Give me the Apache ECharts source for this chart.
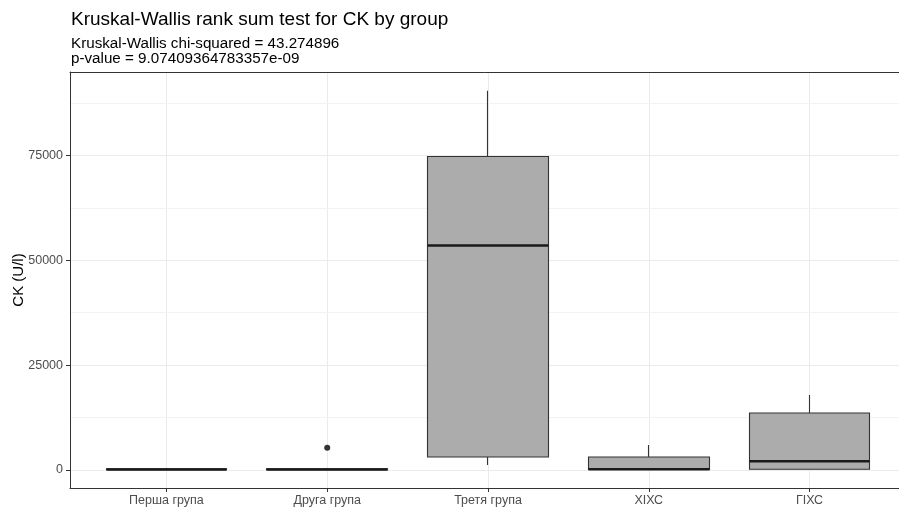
<!DOCTYPE html>
<html>
<head>
<meta charset="utf-8">
<script src="https://cdn.jsdelivr.net/npm/echarts@6/dist/echarts.min.js"></script>
<style>html,body{margin:0;padding:0;background:#fff;}#c{width:899px;height:508px;}</style>
</head>
<body>
<div id="c"></div>
<script>
const categories = ['Перша група', 'Друга група', 'Третя група', 'ХІХС', 'ГІХС'];
// [min (lower whisker), Q1, median, Q3, max (upper whisker)]
const lowerWhisker = [20, 20, 1200, 0, 100];
const q1Values     = [60, 60, 3100, 100, 170];
const medianValues = [120, 110, 53500, 150, 2070];
const q3Values     = [250, 250, 74760, 3100, 13570];
const upperWhisker = [450, 450, 90400, 5950, 17860];
const outliers = [[1, 5300]];
const yTicks = [0, 25000, 50000, 75000];
const yMinorTicks = [12500, 37500, 62500, 87500];

const boxData = categories.map((c, i) => [i, q1Values[i], q3Values[i], lowerWhisker[i], upperWhisker[i]]);
const medData = categories.map((c, i) => [i, medianValues[i], medianValues[i], medianValues[i], medianValues[i]]);

const chart = echarts.init(document.getElementById('c'));
const FONT = 'Liberation Sans, Arial, sans-serif';
chart.setOption({
  animation: false,
  textStyle: { fontFamily: FONT },
  title: {
    text: 'Kruskal-Wallis rank sum test for CK by group',
    subtext: 'Kruskal-Wallis chi-squared = 43.274896\np-value = 9.07409364783357e-09',
    left: 66, top: 5, itemGap: 8,
    textStyle: { fontSize: 19, fontWeight: 'normal', color: '#000', fontFamily: FONT },
    subtextStyle: { fontSize: 15.2, color: '#000', lineHeight: 14.5, fontFamily: FONT }
  },
  grid: { left: 70, top: 72, width: 836, bottom: 20, outerBoundsMode: 'none', containLabel: false },
  xAxis: [{
    type: 'value', min: -0.6, max: 4.6,
    axisLine: { show: true, onZero: false, lineStyle: { color: '#333', width: 1 } },
    axisTick: { show: true, customValues: [0, 1, 2, 3, 4], length: 4, lineStyle: { color: '#333' } },
    axisLabel: { customValues: [0, 1, 2, 3, 4], formatter: v => categories[Math.round(v)] || '', color: '#4d4d4d', fontSize: 12.5, margin: 6, fontFamily: FONT },
    splitLine: { show: true, lineStyle: { color: '#ebebeb', width: 1 } }
  }, {
    type: 'value', min: -0.6, max: 4.6, position: 'top',
    axisLine: { show: true, onZero: false, lineStyle: { color: '#333', width: 1 } },
    axisTick: { show: false }, axisLabel: { show: false }, splitLine: { show: false }
  }],
  yAxis: {
    type: 'value', min: -4300, max: 94900,
    name: 'CK (U/l)', nameLocation: 'middle', nameGap: 44, nameRotate: 90, nameMoveOverlap: false,
    nameTextStyle: { fontSize: 15, color: '#000', fontFamily: FONT },
    axisLine: { show: true, onZero: false, lineStyle: { color: '#333', width: 1 } },
    axisTick: { show: true, customValues: yTicks, length: 4, lineStyle: { color: '#333' } },
    axisLabel: { customValues: yTicks, formatter: v => String(v), color: '#4d4d4d', fontSize: 12.5, margin: 7, fontFamily: FONT },
    splitLine: { show: true, lineStyle: { color: '#ebebeb', width: 1 } }
  },
  series: [
    {
      type: 'line', data: [], silent: true, z: 0,
      markLine: {
        silent: true, symbol: 'none', label: { show: false }, z: 0,
        lineStyle: { color: '#f3f3f3', width: 1, type: 'solid' },
        data: yMinorTicks.map(v => ({ yAxis: v }))
      }
    },
    {
      type: 'candlestick', data: boxData, barWidth: 121, z: 5,
      itemStyle: { color: '#acacac', color0: '#acacac', borderColor: '#333', borderColor0: '#333', borderColorDoji: '#333', borderWidth: 1.1 }
    },
    {
      type: 'candlestick', data: medData, barWidth: 121, z: 6,
      itemStyle: { color: '#1a1a1a', color0: '#1a1a1a', borderColor: '#1a1a1a', borderColor0: '#1a1a1a', borderColorDoji: '#1a1a1a', borderWidth: 2.5 }
    },
    {
      type: 'scatter', data: outliers, symbolSize: 6, z: 7, itemStyle: { color: '#333', opacity: 1 }
    }
  ]
});
</script>
</body>
</html>
